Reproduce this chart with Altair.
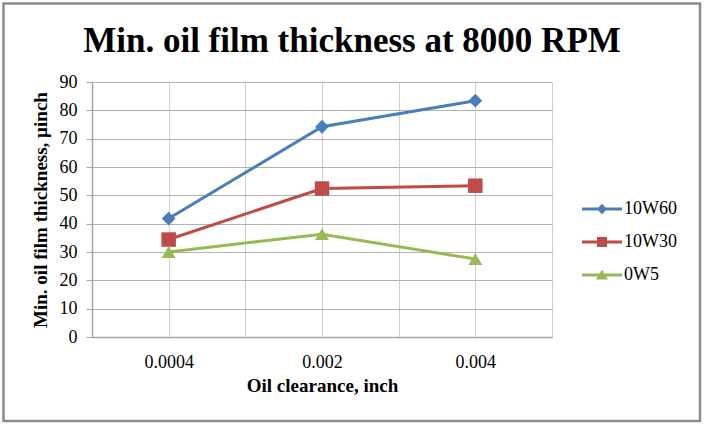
import altair as alt
import pandas as pd

clearances = ["0.0004", "0.002", "0.004"]
series_names = ["10W60", "10W30", "0W5"]
v_10w60 = [41.8, 74.2, 83.4]
v_10w30 = [34.4, 52.4, 53.4]
v_0w5 = [30.0, 36.3, 27.5]
colors = ["#4A7EBB", "#BE4B48", "#98B954"]

rows = []
for name, vals in zip(series_names, [v_10w60, v_10w30, v_0w5]):
    for i, (c, v) in enumerate(zip(clearances, vals)):
        rows.append({"series": name, "clearance": c, "pos": i + 0.5, "value": v})
df = pd.DataFrame(rows)

FONT = "Liberation Serif"
label_expr = " : ".join(
    [f"datum.value == {i + 0.5} ? '{c}'" for i, c in enumerate(clearances)]
) + " : ''"

x_enc = alt.X(
    "pos:Q",
    scale=alt.Scale(domain=[0, 3], nice=False, zero=False),
    axis=alt.Axis(
        values=[0, 0.5, 1, 1.5, 2, 2.5, 3],
        labelExpr=label_expr,
        ticks=False,
        grid=True,
        gridColor="#d0d0d0",
        gridWidth=1,
        domainColor="#a6a6a6",
        domainWidth=1.5,
        labelFont=FONT,
        labelFontSize=18,
        labelColor="#000000",
        labelPadding=16,
        labelOverlap=False,
        labelFlush=False,
        title="Oil clearance, inch",
        titleFont=FONT,
        titleFontSize=19,
        titleFontWeight="bold",
        titleColor="#000000",
        titlePadding=5,
    ),
)
y_enc = alt.Y(
    "value:Q",
    scale=alt.Scale(domain=[0, 90], nice=False),
    axis=alt.Axis(
        values=list(range(0, 91, 10)),
        grid=True,
        gridColor="#b3b3b3",
        gridWidth=1,
        domainColor="#a6a6a6",
        domainWidth=1.5,
        tickColor="#a6a6a6",
        tickSize=6,
        labelFont=FONT,
        labelFontSize=18,
        labelColor="#000000",
        labelPadding=9,
        title="Min. oil film thickness, µinch",
        titleFont=FONT,
        titleFontSize=19,
        titleFontWeight="bold",
        titleColor="#000000",
        titlePadding=9,
    ),
)
color_scale = alt.Scale(domain=series_names, range=colors)

base = alt.Chart(df)
marker_shapes = ["diamond", "square", "triangle-up"]
marker_sizes = [190, 210, 190]

layers = []
for name, col, shp, sz in zip(series_names, colors, marker_shapes, marker_sizes):
    sub = base.transform_filter(alt.datum.series == name)
    layers.append(
        sub.mark_line(strokeWidth=3, color=col).encode(
            x=x_enc, y=y_enc, order="pos:Q",
        )
    )
    layers.append(
        sub.mark_point(filled=True, shape=shp, size=sz, opacity=1, color=col).encode(
            x=x_enc, y=y_enc,
        )
    )

legend_paths = [
    "M-1,-0.1875L4,-0.1875L4,0.1875L-1,0.1875Z M1.5,-0.65L2.15,0L1.5,0.65L0.85,0Z",
    "M-1,-0.1875L4,-0.1875L4,0.1875L-1,0.1875Z M0.875,-0.625L2.125,-0.625L2.125,0.625L0.875,0.625Z",
    "M-1,-0.1875L4,-0.1875L4,0.1875L-1,0.1875Z M1.5,-0.7L2.25,0.55L0.75,0.55Z",
]
legend_def = alt.Legend(
    title=None,
    orient="none",
    legendX=489,
    legendY=118,
    padding=0,
    labelFont=FONT,
    labelFontSize=18,
    labelColor="#000000",
    labelOffset=25,
    rowPadding=15,
    symbolSize=256,
    symbolStrokeWidth=0,
    symbolOpacity=1,
)
legend_layer = base.transform_filter("false").mark_point(filled=True, size=256).encode(
    x=x_enc, y=y_enc,
    color=alt.Color("series:N", scale=color_scale, legend=legend_def),
    shape=alt.Shape("series:N", scale=alt.Scale(domain=series_names, range=legend_paths), legend=legend_def),
)
layers.append(legend_layer)

frame = alt.Chart(pd.DataFrame({"f": [0]})).mark_rect(
    fill=None, stroke="#8c8c8c", strokeWidth=2.5
).encode(
    x=alt.value(-88.5), x2=alt.value(608), y=alt.value(-78.5), y2=alt.value(339)
)

chart = alt.layer(frame, *layers).properties(
    width=460,
    height=255,
    autosize=alt.AutoSizeParams(type="none"),
    padding={"left": 92, "top": 82, "right": 152, "bottom": 91},
    title=alt.TitleParams(
        "Min. oil film thickness at 8000 RPM",
        font=FONT,
        fontSize=35,
        fontWeight="bold",
        color="#000000",
        anchor="middle",
        frame="group",
        dx=30,
        dy=71,
        offset=14,
    ),
).configure(
    background="#ffffff", font=FONT
).configure_view(
    strokeWidth=0
).configure_axis(
    labelFont=FONT, titleFont=FONT
).configure_legend(
    labelFont=FONT
)

chart.save("out.html", embed_options={"renderer": "svg", "actions": False})
